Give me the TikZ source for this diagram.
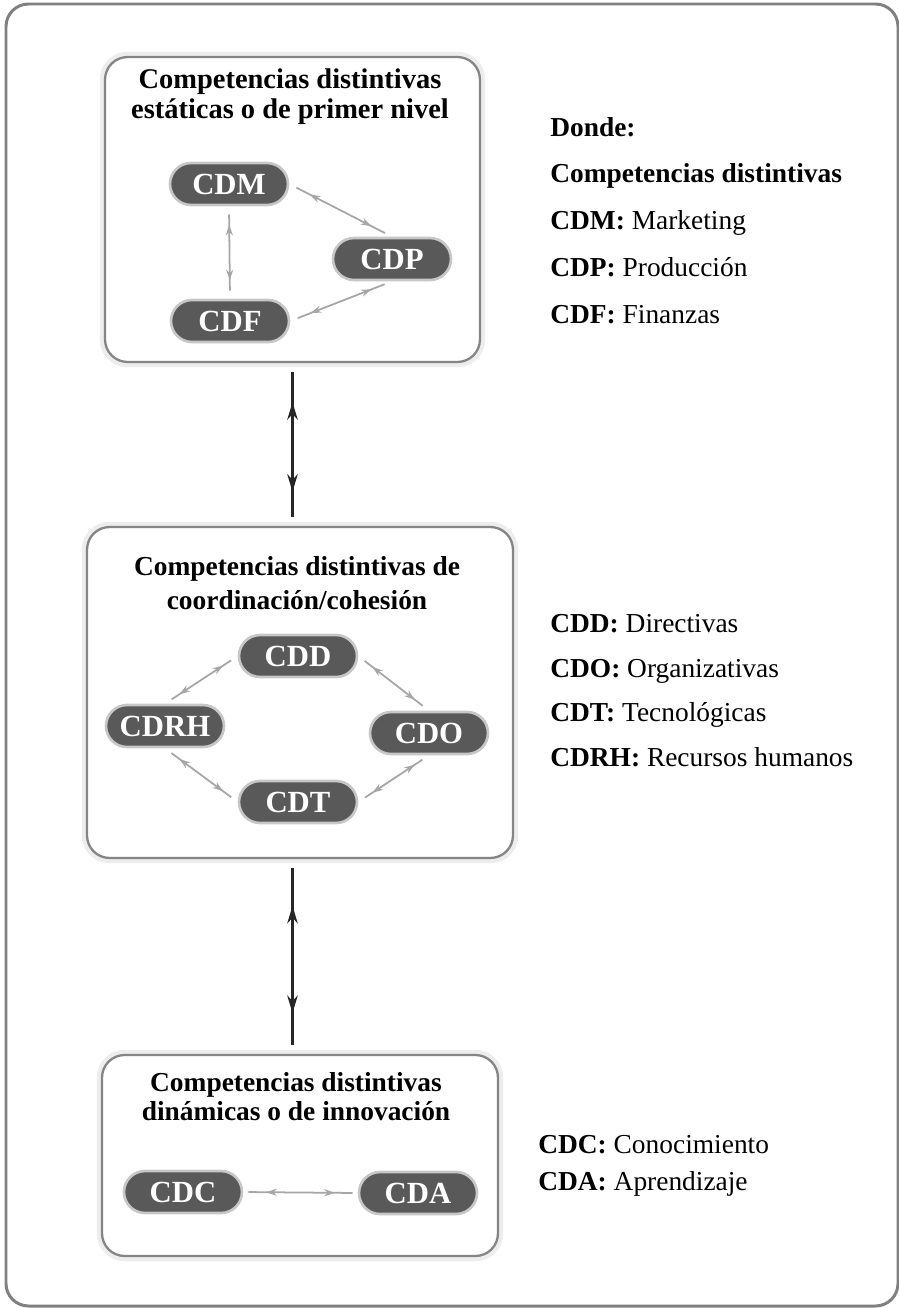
\documentclass[tikz,border=0pt]{standalone}
\usepackage{fontspec}
\setmainfont{Liberation Serif}
\usetikzlibrary{arrows.meta, positioning, decorations.markings, calc}
\tikzset{
  panel/.style={rectangle, draw=black!48, line width=1.3pt, rounded corners=0.45cm,
                fill=white, preaction={draw=black!7, line width=6pt}},
  comp/.style={rectangle, rounded corners=0.42cm, fill=black!65, draw=black!22,
               line width=1.5pt, minimum width=2.36cm, minimum height=0.84cm,
               inner sep=0pt, text=white, font=\bfseries\fontsize{17.5}{18}\selectfont},
  ttl/.style={align=center, inner sep=0pt, font=\bfseries\fontsize{15.6}{16.5}\selectfont},
  key/.style={anchor=base west, inner sep=0pt, font=\fontsize{15.6}{16}\selectfont},
  link/.style={color=black!35, line width=1pt, shorten <=0.16cm, shorten >=0.16cm,
               postaction={decorate}, decoration={markings,
                 mark=at position 0.2 with {\arrowreversed{Stealth[length=6pt,width=4pt]}},
                 mark=at position 0.8 with {\arrow{Stealth[length=6pt,width=4pt]}}}},
  tie/.style={color=black!85, line width=1.4pt, shorten <=0.18cm, shorten >=0.18cm,
              postaction={decorate}, decoration={markings,
                mark=at position 0.24 with {\arrowreversed{Stealth[length=10pt,width=6pt]}},
                mark=at position 0.79 with {\arrow{Stealth[length=10pt,width=6pt]}}}},
}
\begin{document}
\begin{tikzpicture}[x=0.02cm, y=-0.02cm]
  \useasboundingbox (0,0) rectangle (899,1309);
  \draw[black!50, line width=1.7pt, rounded corners=0.45cm] (6,4) rectangle (898,1306);

  \node[panel, minimum width=7.5cm, minimum height=6.1cm] (stat) at (292.5,209.5) {};
  \node[panel, minimum width=8.52cm, minimum height=6.62cm] (coord) at (300,692.5) {};
  \node[panel, minimum width=7.92cm, minimum height=4.02cm] (din) at (300,1155.5) {};

  \node[ttl, font=\bfseries\fontsize{16.2}{17}\selectfont] (tstat) at (290,97)
    {Competencias distintivas\\estáticas o de primer nivel};
  \node[ttl, font=\bfseries\fontsize{15.6}{19.5}\selectfont] (tcoord) at (297,583)
    {Competencias distintivas de\\coordinación/cohesión};
  \node[ttl] (tdin) at (296,1097) {Competencias distintivas\\dinámicas o de innovación};

  \node[comp] (cdm) at (229,184) {CDM};
  \node[comp] (cdp) at (392,259) {CDP};
  \node[comp] (cdf) at (230,321) {CDF};

  \node[comp] (cdd) at (298,656) {CDD};
  \node[comp] (cdrh) at (165,726) {CDRH};
  \node[comp] (cdo) at (429,733) {CDO};
  \node[comp] (cdt) at (298,802) {CDT};

  \node[comp] (cdc) at (183,1192) {CDC};
  \node[comp] (cda) at (418,1193) {CDA};

  \draw[link] (cdm.east) -- (cdp.north);
  \draw[link] (cdm.south) -- (cdf.north);
  \draw[link] (cdf.east) -- (cdp.south);

  \draw[link] (cdd.west) -- (cdrh.north);
  \draw[link] (cdd.east) -- (cdo.north);
  \draw[link] (cdrh.south) -- (cdt.west);
  \draw[link] (cdt.east) -- (cdo.south);

  \draw[link, shorten <=0.1cm, shorten >=0.1cm] (cdc.east) -- (cda.west);

  \draw[tie] (stat.south) -- (stat.south |- coord.north);
  \draw[tie] (stat.south |- coord.south) -- (stat.south |- din.north);

  \node[key] (kdonde) at (550,136) {\textbf{Donde:}};
  \node[key, below=0.94cm of kdonde.base west, anchor=base west] (kcomp)
    {\textbf{Competencias distintivas}};
  \node[key, below=0.94cm of kcomp.base west, anchor=base west] (kcdm)
    {\textbf{CDM:} Marketing};
  \node[key, below=0.94cm of kcdm.base west, anchor=base west] (kcdp)
    {\textbf{CDP:} Producción};
  \node[key, below=0.94cm of kcdp.base west, anchor=base west] (kcdf)
    {\textbf{CDF:} Finanzas};

  \node[key] (kcdd) at (550,632) {\textbf{CDD:} Directivas};
  \node[key, below=0.9cm of kcdd.base west, anchor=base west] (kcdo)
    {\textbf{CDO:} Organizativas};
  \node[key, below=0.9cm of kcdo.base west, anchor=base west] (kcdt)
    {\textbf{CDT:} Tecnológicas};
  \node[key, below=0.9cm of kcdt.base west, anchor=base west] (kcdrh)
    {\textbf{CDRH:} Recursos humanos};

  \node[key] (kcdc) at (538,1153) {\textbf{CDC:} Conocimiento};
  \node[key, below=0.74cm of kcdc.base west, anchor=base west] (kcda)
    {\textbf{CDA:} Aprendizaje};
\end{tikzpicture}
\end{document}
